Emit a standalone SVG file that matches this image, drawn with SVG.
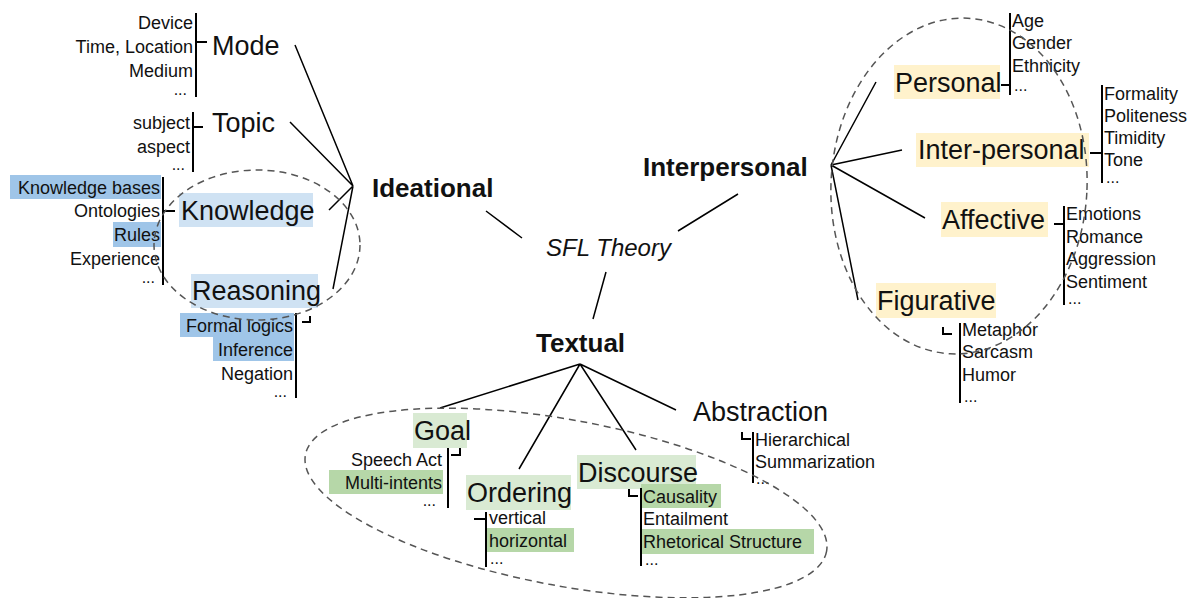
<svg xmlns="http://www.w3.org/2000/svg" width="1194" height="598" viewBox="0 0 1194 598">
<style>
text{font-family:"Liberation Sans",Arial,sans-serif;fill:#111}
.s{font-size:18px}
.d{font-size:16px}
.r{text-anchor:end}
.l{font-size:27px}
.b{font-size:26px;font-weight:bold}
.i{font-size:24px;font-style:italic}
.ln{stroke:#000;stroke-width:1.5;fill:none}
.br{stroke:#000;stroke-width:2;fill:none}
.dash{stroke:#555;stroke-width:1.5;fill:none;stroke-dasharray:7 5}
.bd{fill:#9fc5e8}.bl{fill:#cfe2f3}.gd{fill:#b6d7a8}.gl{fill:#d9ead3}.y{fill:#fff2cc}
</style>
<rect width="1194" height="598" fill="#fff"/>
<g id="connectors">
<path class="ln" d="M295,45L353,186M290,122L353,186M329,210L353,186M333,289L353,186"/>
<path class="ln" d="M486,211L522,238M678,231L738,194M606,272L593,319"/>
<path class="ln" d="M580,364L440,408M580,364L519,469M580,364L636,450M580,364L676,410"/>
<path class="ln" d="M831,165L876,82M831,165L902,150M831,165L925,218M831,165L858,300"/>
</g>
<g id="sfl"><text class="i" x="546" y="256">SFL Theory</text></g>
<g id="ideational"><text class="b" x="372" y="197">Ideational</text></g>
<g id="interpersonal"><text class="b" x="643" y="176">Interpersonal</text></g>
<g id="textual"><text class="b" x="536" y="352">Textual</text></g>
<g id="mode">
<text class="l" x="212" y="55">Mode</text>
<path class="br" d="M196,13V97M196,42H207"/>
<text class="s r" x="193" y="29">Device</text>
<text class="s r" x="193" y="53">Time, Location</text>
<text class="s r" x="193" y="77">Medium</text>
<text class="d r" x="187" y="95">...</text>
</g>
<g id="topic">
<text class="l" x="212" y="132">Topic</text>
<path class="br" d="M193,112V172M193,127H203"/>
<text class="s r" x="190" y="129">subject</text>
<text class="s r" x="190" y="153">aspect</text>
<text class="d r" x="185" y="170">...</text>
</g>
<g id="knowledge">
<rect class="bl" x="179" y="193" width="134" height="34"/>
<text class="l" x="181" y="220">Knowledge</text>
<rect class="bd" x="10" y="175" width="151" height="24"/>
<rect class="bd" x="113" y="222" width="48" height="25"/>
<path class="br" d="M163,177V285M163,211H175"/>
<text class="s r" x="160" y="194">Knowledge bases</text>
<text class="s r" x="160" y="217">Ontologies</text>
<text class="s r" x="160" y="241">Rules</text>
<text class="s r" x="160" y="265">Experience</text>
<text class="d r" x="155" y="283">...</text>
</g>
<g id="reasoning">
<rect class="bl" x="191" y="274" width="127" height="34"/>
<text class="l" x="192" y="300">Reasoning</text>
<rect class="bd" x="180" y="313" width="114" height="24"/>
<rect class="bd" x="213" y="337" width="81" height="24"/>
<path class="br" d="M296,313V398M302,322H310V316"/>
<text class="s r" x="293" y="332">Formal logics</text>
<text class="s r" x="293" y="356">Inference</text>
<text class="s r" x="293" y="380">Negation</text>
<text class="d r" x="287" y="397">...</text>
</g>
<g id="goal">
<rect class="gl" x="413" y="413" width="54" height="35"/>
<text class="l" x="414" y="440">Goal</text>
<rect class="gd" x="329" y="470" width="114" height="24"/>
<path class="br" d="M448,448V508M451,455H460V448"/>
<text class="s r" x="442" y="466">Speech Act</text>
<text class="s r" x="442" y="489">Multi-intents</text>
<text class="d r" x="436" y="506">...</text>
</g>
<g id="ordering">
<rect class="gl" x="466" y="475" width="105" height="35"/>
<text class="l" x="467" y="502">Ordering</text>
<rect class="gd" x="487" y="528" width="87" height="24"/>
<path class="br" d="M486,512V567M474,519H486"/>
<text class="s" x="489" y="524">vertical</text>
<text class="s" x="489" y="547">horizontal</text>
<text class="d" x="490" y="564">...</text>
</g>
<g id="discourse">
<rect class="gl" x="577" y="455" width="119" height="34"/>
<text class="l" x="578" y="482">Discourse</text>
<rect class="gd" x="641" y="484" width="80" height="24"/>
<rect class="gd" x="641" y="529" width="173" height="25"/>
<path class="br" d="M641,488V566M629,489V496H638"/>
<text class="s" x="643" y="503">Causality</text>
<text class="s" x="643" y="525">Entailment</text>
<text class="s" x="643" y="548">Rhetorical Structure</text>
<text class="d" x="645" y="565">...</text>
</g>
<g id="abstraction">
<text class="l" x="693" y="421">Abstraction</text>
<path class="br" d="M753,432V483M742,432V439H751"/>
<text class="s" x="755" y="446">Hierarchical</text>
<text class="s" x="755" y="468">Summarization</text>
<text class="d" x="756" y="484">...</text>
</g>
<g id="personal">
<rect class="y" x="894" y="65" width="106" height="34"/>
<text class="l" x="895" y="92">Personal</text>
<path class="br" d="M1010,13V95M1001,85H1010"/>
<text class="s" x="1012" y="27">Age</text>
<text class="s" x="1012" y="49">Gender</text>
<text class="s" x="1012" y="72">Ethnicity</text>
<text class="d" x="1014" y="91">...</text>
</g>
<g id="inter-personal">
<rect class="y" x="916" y="133" width="173" height="34"/>
<text class="l" x="918" y="159">Inter-personal</text>
<path class="br" d="M1102,85V183M1090,153H1102"/>
<text class="s" x="1104" y="100">Formality</text>
<text class="s" x="1104" y="122">Politeness</text>
<text class="s" x="1104" y="144">Timidity</text>
<text class="s" x="1104" y="166">Tone</text>
<text class="d" x="1106" y="183">...</text>
</g>
<g id="affective">
<rect class="y" x="941" y="202" width="107" height="35"/>
<text class="l" x="942" y="229">Affective</text>
<path class="br" d="M1064,206V305M1054,224H1064"/>
<text class="s" x="1066" y="220">Emotions</text>
<text class="s" x="1066" y="243">Romance</text>
<text class="s" x="1066" y="265">Aggression</text>
<text class="s" x="1066" y="288">Sentiment</text>
<text class="d" x="1068" y="304">...</text>
</g>
<g id="figurative">
<rect class="y" x="876" y="283" width="120" height="35"/>
<text class="l" x="877" y="310">Figurative</text>
<path class="br" d="M960,323V403M943,327V334H952"/>
<text class="s" x="962" y="336">Metaphor</text>
<text class="s" x="962" y="358">Sarcasm</text>
<text class="s" x="962" y="381">Humor</text>
<text class="d" x="964" y="402">...</text>
</g>
<g id="clusters">
<ellipse class="dash" cx="257" cy="245" rx="103" ry="75"/>
<ellipse class="dash" cx="959" cy="186" rx="128" ry="168" transform="rotate(3 959 186)"/>
<ellipse class="dash" cx="566" cy="503" rx="265" ry="83" transform="rotate(10.5 566 503)"/>
</g>
</svg>
